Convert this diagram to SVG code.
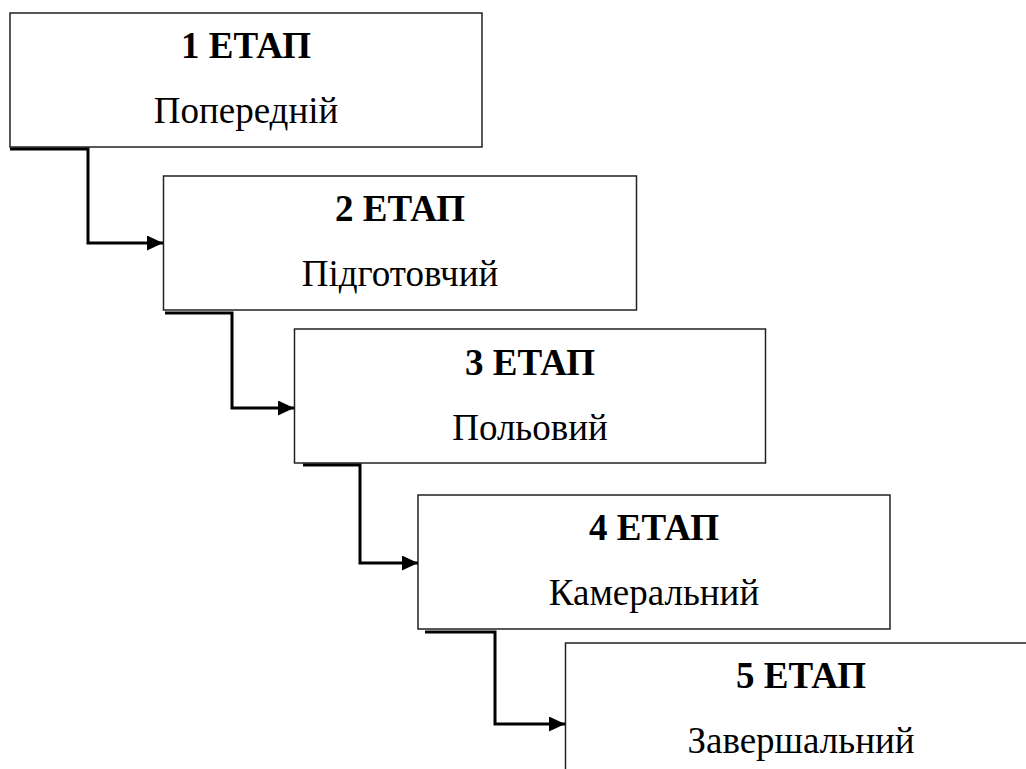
<svg xmlns="http://www.w3.org/2000/svg" width="1026" height="769" viewBox="0 0 1026 769">
<style>
.box{fill:#fff;stroke:#222;stroke-width:1.5}
.t{font-family:"Liberation Serif","Times New Roman",serif;font-size:37px;text-anchor:middle;fill:#000}
.b{font-weight:bold}
.c{fill:none;stroke:#000;stroke-width:3}
</style>
<defs>
<marker id="ah" markerWidth="16" markerHeight="15" refX="16" refY="7.5" orient="auto" markerUnits="userSpaceOnUse">
<path d="M0,0 L16,7.5 L0,15 Z" fill="#000"/>
</marker>
</defs>
<rect width="1026" height="769" fill="#fff"/>
<g id="node1">
<rect class="box" x="10" y="13" width="472" height="134"/>
<text class="t b" x="246" y="58">1 ЕТАП</text>
<text class="t" x="246" y="123">Попередній</text>
</g>
<g id="node2">
<rect class="box" x="163.5" y="176" width="473" height="134"/>
<text class="t b" x="400" y="221">2 ЕТАП</text>
<text class="t" x="400" y="286">Підготовчий</text>
</g>
<g id="node3">
<rect class="box" x="294.5" y="329" width="471" height="134"/>
<text class="t b" x="530" y="375">3 ЕТАП</text>
<text class="t" x="530" y="440">Польовий</text>
</g>
<g id="node4">
<rect class="box" x="418" y="495" width="472" height="134"/>
<text class="t b" x="654" y="540">4 ЕТАП</text>
<text class="t" x="654" y="605">Камеральний</text>
</g>
<g id="node5">
<rect class="box" x="565.5" y="643" width="500" height="160"/>
<text class="t b" x="801" y="688">5 ЕТАП</text>
<text class="t" x="801" y="753">Завершальний</text>
</g>
<g id="connectors">
<path class="c" d="M10,149 H88 V243 H163" marker-end="url(#ah)"/>
<path class="c" d="M165,313 H232 V408 H294" marker-end="url(#ah)"/>
<path class="c" d="M303,465 H360 V563 H418" marker-end="url(#ah)"/>
<path class="c" d="M425,632 H495 V724 H565" marker-end="url(#ah)"/>
</g>
</svg>
